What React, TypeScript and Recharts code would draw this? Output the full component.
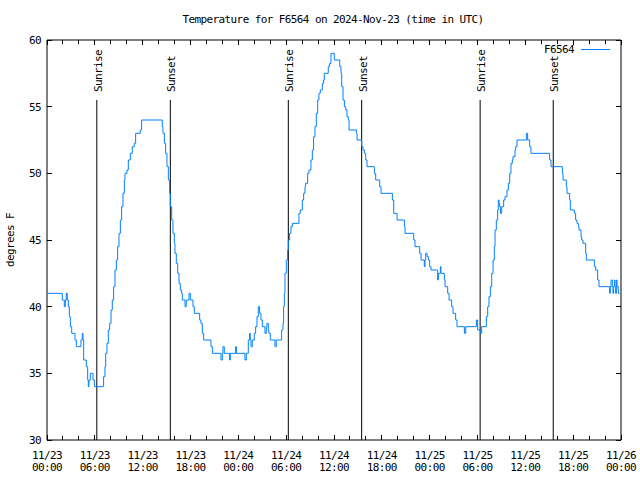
import React from "react";
import {
  LineChart,
  Line,
  XAxis,
  YAxis,
  ReferenceLine,
  ReferenceArea,
} from "recharts";

// hours since 11/23 00:00 UTC where the reading changes, and the new reading (F)
const hours = [
  0, 1.92, 2.17, 2.3, 2.42, 2.55, 2.68, 2.8, 2.93, 3.1, 3.51, 3.68, 4.26, 4.43, 4.51, 4.6,
  4.93, 5.1, 5.18, 5.26, 5.43, 5.77, 5.94, 7.1, 7.27, 7.36, 7.52, 7.69, 7.86, 8.03, 8.19,
  8.36, 8.53, 8.7, 8.86, 9.03, 9.2, 9.36, 9.53, 9.7, 9.78, 10.03, 10.2, 10.45, 10.7, 10.95,
  11.12, 11.7, 11.87,
  14.46, 14.55, 14.72, 14.88, 15.05, 15.22, 15.38, 15.47, 15.64, 15.8, 15.97, 16.05, 16.22,
  16.39, 16.56, 16.72, 16.89, 16.97, 17.31, 17.47, 17.81, 17.98, 18.31, 18.48, 19.15, 19.31,
  19.48, 19.65, 20.57, 20.74, 21.82, 21.99, 22.07, 22.24, 22.91, 22.99, 23.66, 23.75,
  24.83, 25.0, 25.25, 25.42, 25.5, 25.59, 25.75, 26.0, 26.17, 26.34, 26.5, 26.67, 26.84,
  27.01, 27.34, 27.51, 27.59, 27.76, 27.84, 28.01, 28.6, 28.76, 29.43, 29.6, 29.68, 29.77,
  29.85, 30.02, 30.18, 30.27, 30.43, 30.6, 30.77, 31.6, 31.77, 32.02, 32.19, 32.36, 32.44,
  32.69, 32.86, 33.11, 33.28, 33.44, 33.61, 33.78, 33.95, 34.11, 34.28, 34.53, 34.7, 34.78,
  35.28, 35.45, 35.62, 36.04,
  36.72, 36.88, 36.97, 37.13, 37.3, 37.47, 37.63, 37.8, 37.89, 38.81, 38.89, 39.47, 39.64,
  39.81, 39.98, 40.14, 41.06, 41.23, 41.73, 41.9, 43.32, 43.49, 43.91, 44.83, 44.91, 46.0,
  46.16, 46.75, 46.92, 47.33, 47.42, 47.5, 47.67, 47.84, 48.0, 48.17,
  49.0, 49.09, 49.34, 49.42, 49.84, 49.93, 50.26, 50.43, 50.76, 50.93, 51.26, 51.43, 52.35,
  52.52, 53.86, 54.02, 54.36, 54.52, 55.11, 55.28, 55.44, 55.61, 55.78, 55.95, 56.11, 56.2,
  56.36, 56.53, 56.61, 56.7, 56.78, 56.87, 57.03, 57.28, 57.45, 57.7, 57.87, 58.04, 58.2,
  58.37, 58.45, 58.7, 58.79, 58.96, 60.13, 60.29, 60.54, 60.71,
  63.05, 63.22, 64.64, 64.73, 65.14, 65.23, 65.56, 65.64, 66.15, 66.31, 66.48, 66.65, 66.73,
  66.98, 67.07, 67.23, 67.57, 67.65, 68.66, 68.82, 69.07, 69.24, 70.58, 70.66, 70.75, 70.91,
  71.0, 71.08, 71.17, 71.25, 71.33, 71.42, 71.5, 71.66, 71.83, 72.0,
];

const temps = [
  41, 40.5, 40, 40.5, 41, 40.5, 40, 39.25, 38.5, 38, 37.5, 37, 37.5, 38, 37.5, 36,
  35.5, 34.5, 34, 34.5, 35, 34.5, 34, 34.75, 35.5, 36.5, 37.25, 38.25, 38.75, 39.75, 40.5,
  41.5, 42.75, 43.5, 44.5, 45.5, 46.5, 47.5, 48.5, 49.5, 50, 50.25, 51, 51.5, 52, 52.25,
  53, 53.25, 54,
  53.5, 53, 52.25, 51.5, 50.5, 49.5, 48.5, 47.5, 46.5, 45.5, 44.75, 44, 43.25,
  42.5, 41.75, 41.25, 41, 40.5, 40, 40.5, 41, 40.5, 40, 39.5, 39,
  38.75, 38, 37.5, 37, 36.5, 36, 36.5, 37, 36.5, 36, 36.5, 37,
  36.5, 36, 36.5, 37.5, 38, 37.5, 37, 37.5, 38, 38.5, 39.25, 40, 39.5,
  39, 38.5, 38, 38.5, 38.75, 38.25, 38, 37.5, 37, 37.5, 38.25, 38.75, 40,
  41, 42.5, 43.5, 44.25, 45, 45.5, 46, 46.25, 47, 47.25, 48, 48.5, 49,
  49.25, 50, 50.25, 51, 51.75, 52.75, 53.5, 54.5, 55.5, 56, 56.25, 56.75, 57,
  57.5, 58, 58.25, 59,
  58.5, 58, 57.5, 56.5, 55.5, 55, 54.75, 54.25, 54, 53.25, 53, 52.5, 52,
  51.75, 51.5, 51, 50.5, 50, 49.5, 49, 48.5, 48, 47, 46.5, 46, 45.5,
  45, 44.5, 44, 43.5, 43, 43.5, 44, 43.75, 43.5, 43,
  42.75, 42, 42.5, 43, 42.5, 42, 41.5, 41, 40.5, 40, 39.5, 39, 38.5,
  38, 38.5, 39, 38.25, 38, 38.5, 39.25, 40, 40.75, 41.5, 42.5, 43.5, 44.5,
  45.75, 46.5, 47.25, 48, 47.75, 47.5, 47, 47.5, 48, 48.25, 48.75, 49.25, 50,
  50.75, 51, 51.25, 51.75, 52, 52.5, 53, 52.5, 52,
  51.5, 51, 50.5, 50, 49.5, 49, 48.5, 48, 47.25, 47, 46.5, 46.25, 46,
  45.75, 45.25, 45, 44.75, 44, 43.5, 43, 42.75, 42, 41.5, 41, 41.5, 42,
  41.5, 41, 41.5, 42, 41.5, 41, 42, 41.5, 41, 41,
];

const sunrise = [6.25, 30.27, 54.33];
const sunset = [15.47, 39.47, 63.5];

const xTicks = [0, 2, 4, 6, 8, 10, 12, 14, 16, 18, 20, 22, 24, 26, 28, 30, 32, 34, 36, 38, 40, 42, 44, 46, 48, 50, 52, 54, 56, 58, 60, 62, 64, 66, 68, 70, 72];
const labelHours = [0, 6, 12, 18, 24, 30, 36, 42, 48, 54, 60, 66, 72];
const labelDates = ["11/23", "11/23", "11/23", "11/23", "11/24", "11/24", "11/24", "11/24", "11/25", "11/25", "11/25", "11/25", "11/26"];
const labelTimes = ["00:00", "06:00", "12:00", "18:00", "00:00", "06:00", "12:00", "18:00", "00:00", "06:00", "12:00", "18:00", "00:00"];
const yTicks = [30, 35, 40, 45, 50, 55, 60];

const series = hours.map((h, i) => ({ h, temp: temps[i] }));

const FONT = "'DejaVu Sans Mono', 'Liberation Mono', monospace";
const PLOT = { left: 47, right: 621, top: 40, bottom: 440 };
const BLUE = "#0080ff";
const txt = { fontFamily: FONT, fontSize: 11, letterSpacing: -0.6, fill: "#000" };

const XTick = (props: any) => {
  const { x, payload } = props;
  const idx = labelHours.indexOf(payload.value);
  const len = idx >= 0 ? 5 : 4;
  return (
    <g>
      <line x1={x} x2={x} y1={PLOT.bottom} y2={PLOT.bottom - len} stroke="#000" shapeRendering="crispEdges" />
      <line x1={x} x2={x} y1={PLOT.top} y2={PLOT.top + len} stroke="#000" shapeRendering="crispEdges" />
      {idx >= 0 && (
        <text x={x} y={PLOT.bottom + 18.5} textAnchor="middle" {...txt}>
          {labelDates[idx]}
        </text>
      )}
      {idx >= 0 && (
        <text x={x} y={PLOT.bottom + 31} textAnchor="middle" {...txt}>
          {labelTimes[idx]}
        </text>
      )}
    </g>
  );
};

const YTick = (props: any) => {
  const { y, payload } = props;
  return (
    <g>
      <line x1={PLOT.left} x2={PLOT.left + 5} y1={y} y2={y} stroke="#000" shapeRendering="crispEdges" />
      <line x1={PLOT.right} x2={PLOT.right - 5} y1={y} y2={y} stroke="#000" shapeRendering="crispEdges" />
      <text x={PLOT.left - 6} y={y + 4} textAnchor="end" {...txt}>
        {payload.value}
      </text>
    </g>
  );
};

const SunLabel = (props: any) => {
  const { viewBox, text } = props;
  const x = viewBox.x + 5;
  const y = 92;
  return (
    <text x={x} y={y} transform={`rotate(-90 ${x} ${y})`} {...txt}>
      {text}
    </text>
  );
};

export default function App() {
  return (
    <div style={{ position: "absolute", left: 0, top: 0, width: 640, height: 480, background: "#fff" }}>
      <LineChart
        width={640}
        height={480}
        data={series}
        margin={{ top: PLOT.top, right: 640 - PLOT.right, bottom: 0, left: 0 }}
      >
        <XAxis
          dataKey="h"
          type="number"
          domain={[0, 72]}
          ticks={xTicks}
          interval={0}
          height={40}
          axisLine={false}
          tickLine={false}
          tickSize={0}
          tick={<XTick />}
        />
        <YAxis
          type="number"
          domain={[30, 60]}
          ticks={yTicks}
          interval={0}
          width={PLOT.left}
          axisLine={false}
          tickLine={false}
          tickSize={0}
          tick={<YTick />}
        />
        {sunrise.map((h) => (
          <ReferenceLine
            key={`r${h}`}
            segment={[{ x: h, y: 55.5 }, { x: h, y: 30 }]}
            stroke="#000"
            label={<SunLabel text="Sunrise" />}
          />
        ))}
        {sunset.map((h) => (
          <ReferenceLine
            key={`s${h}`}
            segment={[{ x: h, y: 55.5 }, { x: h, y: 30 }]}
            stroke="#000"
            label={<SunLabel text="Sunset" />}
          />
        ))}
        <Line
          dataKey="temp"
          type="stepAfter"
          stroke={BLUE}
          strokeWidth={1}
          dot={false}
          isAnimationActive={false}
        />
        <ReferenceArea x1={0} x2={72} y1={30} y2={60} fill="none" stroke="#000" strokeOpacity={1} />
      </LineChart>
      <svg
        width={640}
        height={480}
        style={{ position: "absolute", left: 0, top: 0, pointerEvents: "none" }}
      >
        <text x={333} y={23} textAnchor="middle" {...txt}>
          Temperature for F6564 on 2024-Nov-23 (time in UTC)
        </text>
        <text x={14} y={240} transform="rotate(-90 14 240)" textAnchor="middle" {...txt}>
          degrees F
        </text>
        <text x={574} y={53} textAnchor="end" {...txt}>
          F6564
        </text>
        <line x1={581} x2={610} y1={49.5} y2={49.5} stroke={BLUE} />
      </svg>
    </div>
  );
}
